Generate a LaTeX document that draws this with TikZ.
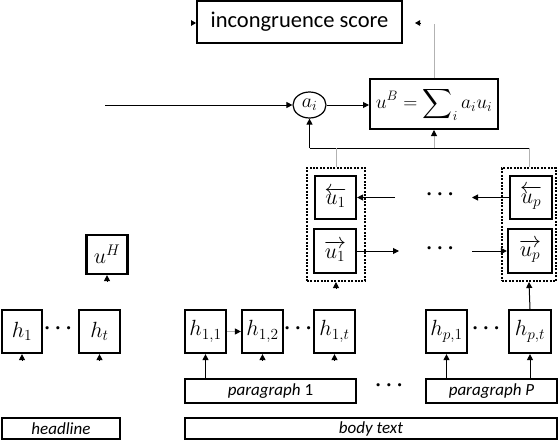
\RequirePackage{fix-cm}
\documentclass[tikz,border=0pt]{standalone}
\usepackage{amsmath}
\usepackage{fontspec}
\setmainfont{Carlito}
\usetikzlibrary{arrows.meta,shapes.geometric}
\begin{document}
\begin{tikzpicture}[x=1pt,y=-1pt,
  tip/.style={-{Triangle[length=6pt,width=6pt]}, line width=1pt},
  stip/.style={-{Triangle[length=5pt,width=5.5pt]}, line width=1pt},
  gtip/.style={draw=gray!60, line width=1pt, -{Triangle[length=6pt,width=6pt,color=black]}},
  hbox/.style={draw, line width=2.2pt, inner sep=0pt, minimum width=41pt, minimum height=43pt, font=\fontsize{22}{26}\selectfont},
  lbox/.style={draw, line width=1.8pt, inner sep=0pt, font=\fontsize{17}{20}\selectfont\itshape},
  dbox/.style={draw, line width=2pt, dash pattern=on 2pt off 1.4pt, inner sep=0pt},
  dots/.style={inner sep=0pt, font=\fontsize{21}{24}\selectfont\boldmath},
  gline/.style={draw=gray!60, line width=1pt}
]
\useasboundingbox (0,0) rectangle (558,442);

% top
\node[draw, line width=1.8pt, minimum width=205pt, minimum height=42pt, inner sep=0pt, font=\fontsize{22.5}{26}\selectfont] (score) at (299.5,22) {incongruence score};
\node[draw, line width=2pt, minimum width=128pt, minimum height=50pt, inner sep=0pt, font=\fontsize{19.5}{24}\selectfont] (sum) at (434,104) {$\displaystyle u^B = \sum\nolimits_i a_i u_i$};
\node[draw, ellipse, line width=1.2pt, minimum width=33pt, minimum height=26pt, inner sep=0pt, font=\fontsize{20}{24}\selectfont] (ai) at (309.5,105) {$a_i$};

\coordinate (scl) at (191,23);
\coordinate (scr) at (421,23);
\coordinate (scrt) at (415,23);
\draw[stip] (scl) -- (scl -| score.west);
\draw[stip] (scr) -- (scrt);
\coordinate (top) at (434,24);
\draw[gline] (sum.north) -- (top);

\coordinate (in) at (105,105);
\draw[tip] (in) -- (ai.west);
\draw[tip] (ai.east) -- (ai.east -| sum.west);

% bus
\coordinate (busL) at (309.5,148);
\coordinate (busR) at (530,148);
\draw[line width=1pt] (busL) -- (busR);
\draw[tip] (busL) -- (ai.south);
\draw[gtip] (sum.south |- busL) -- (sum.south);

% dotted groups
\node[dbox, minimum width=58pt, minimum height=113pt] (dotL) at (336,224.5) {};
\node[dbox, minimum width=54pt, minimum height=113pt] (dotR) at (529,224.5) {};
\draw[gline] (dotL.north) -- (dotL.north |- busL);
\draw[gline] (dotR.north) -- (dotR.north |- busL);

\node[hbox] (u1b) at (335.5,197.5) {$\overleftarrow{u_1}$};
\node[hbox, minimum width=42pt, minimum height=44pt] (u1f) at (335,251) {$\overrightarrow{u_1}$};
\node[hbox, minimum width=42pt] (upb) at (531,197.5) {$\overleftarrow{u_p}$};
\node[hbox, minimum width=44pt, minimum height=44pt] (upf) at (530,251) {$\overrightarrow{u_p}$};

\coordinate (b1) at (472,197.5);
\coordinate (b2) at (395,197.5);
\draw[tip] (upb.west) -- (b1);
\draw[tip] (b2) -- (u1b.east);
\coordinate (f1) at (399,251);
\coordinate (f2) at (472,251);
\draw[tip] (u1f.east) -- (f1);
\draw[tip] (f2) -- (upf.west);
\node[dots] (db) at (442,195) {$\cdots$};
\node[dots] (df) at (442,248.5) {$\cdots$};

\draw[tip] ([yshift=-6pt]dotL.south) -- (dotL.south);

% headline side
\node[hbox, minimum height=39pt] (uH) at (107,254.5) {$u^H$};
\node[hbox, minimum width=40pt] (h1) at (22,331.5) {$h_1$};
\node[hbox] (ht) at (99.5,331.5) {$h_t$};
\node[dots] (dh) at (60,328.5) {$\cdots$};
\draw[tip] ([yshift=-6pt]uH.south) -- (uH.south);
\draw[tip] ([yshift=-6pt]h1.south) -- (h1.south);
\draw[tip] ([yshift=-6pt]ht.south) -- (ht.south);

% body side
\node[hbox] (h11) at (205.5,331.5) {$h_{1,1}$};
\node[hbox] (h12) at (262.5,331.5) {$h_{1,2}$};
\node[hbox] (h1t) at (334.5,331.5) {$h_{1,t}$};
\node[hbox] (hp1) at (446.5,331.5) {$h_{p,1}$};
\node[hbox, minimum width=42pt] (hpt) at (530,331.5) {$h_{p,t}$};
\node[dots] (d1) at (300,328.5) {$\cdots$};
\node[dots] (d2) at (488,328.5) {$\cdots$};
\draw[gtip] (h11.east) -- (h12.west);
\draw[tip] ([yshift=-6pt]h12.south) -- (h12.south);
\draw[tip] ([yshift=-6pt]h1t.south) -- (h1t.south);
\draw[tip] (hpt.north) -- (dotR.south);

% labels
\node[lbox, minimum width=171pt, minimum height=24pt] (p1) at (270.5,391) {paragraph \upshape 1};
\node[lbox, minimum width=131pt, minimum height=24pt] (pP) at (491.5,391) {paragraph P};
\node[dots] (dp) at (391,386) {$\cdots$};
\node[lbox, minimum width=372pt, minimum height=21pt] (body) at (371,428.5) {body text};
\node[lbox, minimum width=118pt, minimum height=21pt] (head) at (61,428.5) {headline};

\draw[tip] (h11.south |- p1.north) -- (h11.south);
\draw[tip] (hp1.south |- pP.north) -- (hp1.south);
\draw[tip] (hpt.south |- pP.north) -- (hpt.south);
\end{tikzpicture}
\end{document}
